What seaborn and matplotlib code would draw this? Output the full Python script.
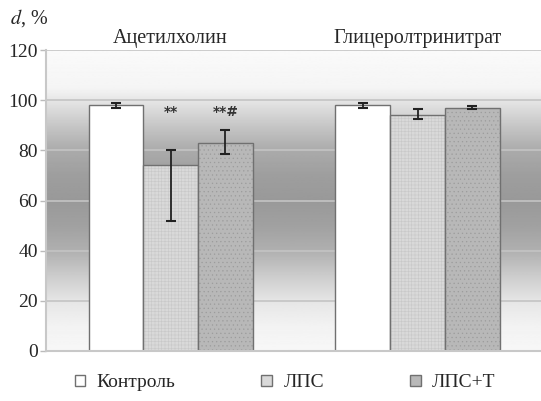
import numpy as np
import pandas as pd
import matplotlib
matplotlib.use("Agg")
import matplotlib.pyplot as plt
import matplotlib.colors as mcolors
import seaborn as sns

# data
groups = ["Ацетилхолин", "Глицеролтринитрат"]
series = ["Контроль", "ЛПС", "ЛПС+Т"]
values = {
    "Контроль": [98, 98],
    "ЛПС": [74, 94],
    "ЛПС+Т": [83, 97],
}
err_low = {
    "Контроль": [1, 1],
    "ЛПС": [22, 1.5],
    "ЛПС+Т": [4.5, 0.6],
}
err_high = {
    "Контроль": [1, 1],
    "ЛПС": [6, 2.5],
    "ЛПС+Т": [5, 0.6],
}
marks = {("ЛПС", 0): "**", ("ЛПС+Т", 0): "**#"}
yticks = [0, 20, 40, 60, 80, 100, 120]

rows = []
for s in series:
    for i, g in enumerate(groups):
        rows.append({"group": g, "series": s, "value": values[s][i]})
df = pd.DataFrame(rows)

sns.set_style("white")
plt.rcParams["font.family"] = ["Liberation Serif", "DejaVu Serif"]
plt.rcParams["hatch.linewidth"] = 0.4

fig = plt.figure(figsize=(5.41, 4.01), dpi=100)
ax = fig.add_axes([0.085, 0.125, 0.915, 0.75])

# banded grey background (white top and bottom, darker in the middle)
lv = np.linspace(0, 120, 400)
stops_y = [0, 10, 20, 30, 40, 50, 60, 70, 80, 90, 100, 105, 120]
stops_c = [0.97, 0.95, 0.90, 0.80, 0.69, 0.63, 0.60, 0.62, 0.67, 0.78, 0.90, 0.96, 0.98]
shade = np.interp(lv, stops_y, stops_c)[:, None]
ax.imshow(shade, cmap="gray", vmin=0, vmax=1, aspect="auto", origin="lower",
          extent=[-0.505, 1.5, 0, 120], zorder=0)

palette = {"Контроль": "#ffffff", "ЛПС": "#d9d9d9", "ЛПС+Т": "#b8b8b8"}
sns.barplot(data=df, x="group", y="value", hue="series", hue_order=series,
            order=groups, palette=palette, errorbar=None, width=0.665,
            edgecolor="#707070", linewidth=1.0, saturation=1, legend=True,
            ax=ax, zorder=2)

# fine texture on the filled bars
textures = {"ЛПС": ("+++++", "#c8c8c8"), "ЛПС+Т": ("....", "#9c9c9c")}
for bc, s in zip(ax.containers, series):
    if s in textures:
        for p in bc.patches:
            p.set_hatch(textures[s][0])
            p._hatch_color = mcolors.to_rgba(textures[s][1])

# asymmetric error bars and significance marks
for bc, s in zip(ax.containers, series):
    xs = [p.get_x() + p.get_width() / 2 for p in bc.patches]
    ax.errorbar(xs, values[s], yerr=[err_low[s], err_high[s]], fmt="none",
                ecolor="#222222", elinewidth=1.3, capsize=3.5, capthick=1.5, zorder=4)
    for i, x in enumerate(xs):
        if (s, i) in marks:
            ax.text(x, 95.5, marks[(s, i)], ha="center", va="center",
                    fontsize=10, fontweight="bold", color="#333333",
                    family=["DejaVu Sans"], zorder=5)

ax.set_xlim(-0.505, 1.5)
ax.set_ylim(0, 120)
ax.set_yticks(yticks)
ax.set_yticklabels([str(t) for t in yticks], fontsize=14)
ax.set_xticks([])
ax.set_xlabel("")
ax.set_ylabel("")
ax.grid(False)
for t in yticks[1:]:
    ax.axhline(t, color="#c4c4c4", lw=1.2, zorder=1)
ax.tick_params(axis="y", length=4, width=1, color="#bbbbbb", pad=2, left=True)
for side in ["top", "right"]:
    ax.spines[side].set_visible(False)
ax.spines["left"].set_color("#c8c8c8")
ax.spines["left"].set_linewidth(1.5)
ax.spines["bottom"].set_color("#c8c8c8")
ax.spines["bottom"].set_linewidth(1.5)

# group captions
for i, g in enumerate(groups):
    ax.text(i, 124.5, g, ha="center", va="center", fontsize=14.5)

fig.text(0.018, 0.955, "$d$, %", fontsize=14.5, ha="left", va="center",
         family=["Liberation Serif"], math_fontfamily="stix")

handles, labels = ax.get_legend_handles_labels()
ax.legend_.remove()
fig.legend(handles, labels, loc="center", bbox_to_anchor=(0.527, 0.045), ncol=3,
           frameon=False, fontsize=14, handlelength=0.55, handleheight=0.55,
           handletextpad=0.6, columnspacing=4.4)

fig.savefig("out.png", dpi=100)
